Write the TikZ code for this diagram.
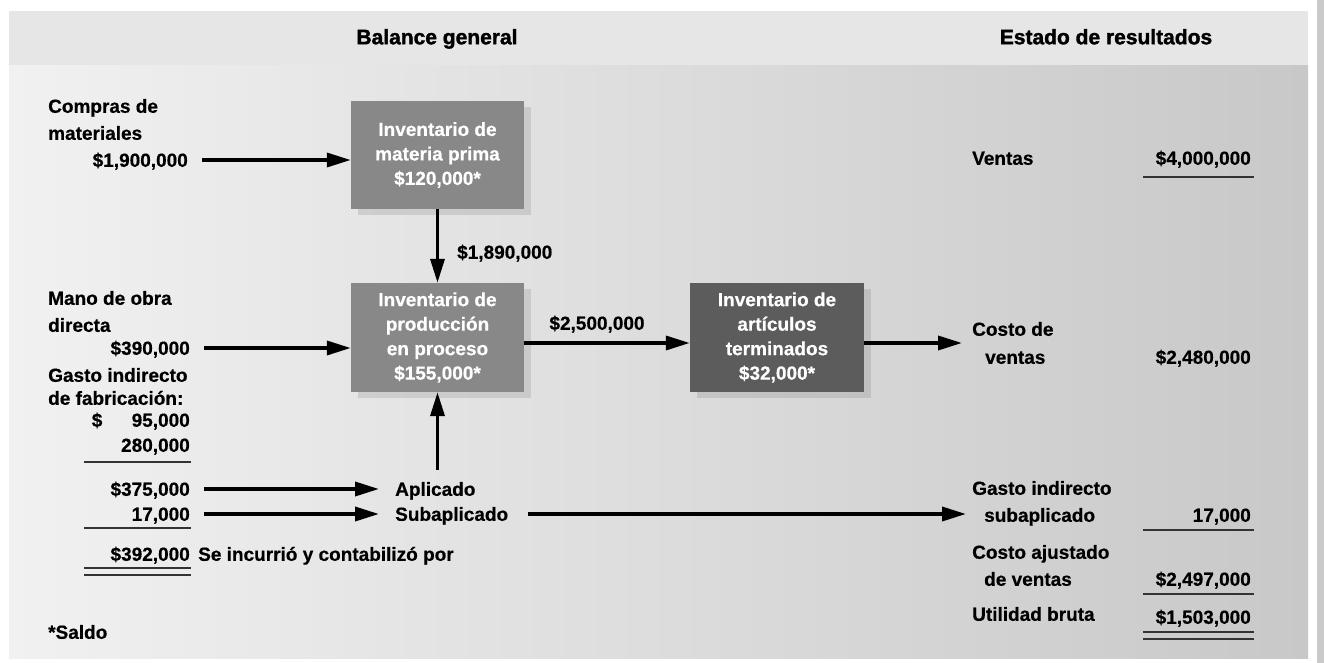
\documentclass[tikz,border=0pt]{standalone}
\usepackage{fontspec}
\setmainfont{Liberation Sans}[BoldFeatures={FakeBold=0.5}]
\newfontfamily\heavyfamily{Liberation Sans}[BoldFeatures={FakeBold=1.6}]
\usetikzlibrary{arrows.meta,shadows,positioning}
\definecolor{panelhead}{HTML}{E6E6E6}
\definecolor{panelleft}{HTML}{F1F1F1}
\definecolor{panelright}{HTML}{C8C8C8}
\definecolor{boxmid}{HTML}{888888}
\definecolor{boxdark}{HTML}{5C5C5C}
\definecolor{rulegray}{HTML}{333333}
\definecolor{edgegray}{HTML}{CACACA}
\newcommand\flowfont{\fontsize{19}{24.5}\selectfont\bfseries}
\newcommand\hdrfont{\heavyfamily\fontsize{21}{25}\selectfont\bfseries}

\begin{document}
\begin{tikzpicture}[x=1pt, y=-1pt,
  txt/.style={font=\flowfont, inner sep=0pt, text height=13.6pt, text depth=0pt},
  lbl/.style={txt, anchor=west},
  amt/.style={txt, anchor=east},
  invbox/.style={fill=boxmid, text=white, font=\flowfont, align=center,
    minimum width=173pt, minimum height=108pt, inner sep=0pt,
    drop shadow={shadow xshift=7pt, shadow yshift=-6pt, fill=black, opacity=0.1}},
  flow/.style={line width=3.5pt, -{Triangle[length=24pt, width=14pt]}},
  sumrule/.style={line width=1.3pt, rulegray}]

  % Panel
  \fill[white] (0,0) rectangle (1324,663);
  \fill[panelhead] (9,11) rectangle (1308,66);
  \shade[left color=panelleft, right color=panelright] (9,66) rectangle (1308,658);
  \fill[edgegray] (1317,0) rectangle (1324,663);
  \useasboundingbox (0,0) rectangle (1324,663);

  \node[font=\hdrfont, inner sep=0pt, text height=14.5pt, text depth=0pt] (balance) at (437,37) {Balance general};
  \node[font=\hdrfont, inner sep=0pt, text height=14.5pt, text depth=0pt] (estado) at (1106,37) {Estado de resultados};

  % Inventories
  \node[invbox] (mp) at (437.5,155) {Inventario de\\materia prima\\\$120,000*};
  \node[invbox, minimum height=109pt] (pp) at (437.5,337.5) {Inventario de\\producción\\en proceso\\\$155,000*};
  \node[invbox, fill=boxdark, minimum width=174pt, minimum height=109pt] (pt) at (777,337.5) {Inventario de\\artículos\\terminados\\\$32,000*};

  % Costs in
  \node[lbl] (compras) at (48,106) {Compras de};
  \node[lbl] (compras2) at (48,133) {materiales};
  \node[amt] (c1900) at (188,160) {\$1,900,000};
  \node[lbl] (mano) at (48,298) {Mano de obra};
  \node[lbl] (mano2) at (48,325) {directa};
  \node[amt] (m390) at (190,348) {\$390,000};
  \node[lbl] (gasto) at (48,375) {Gasto indirecto};
  \node[lbl] (gasto2) at (48,398) {de fabricación:};
  \node[amt] (g95) at (190,420) {\makebox[98pt]{\$\hfill 95,000}};
  \node[amt] (g280) at (190,445) {280,000};
  \node[amt] (g375) at (190,489) {\$375,000};
  \node[amt] (g17) at (190,514) {17,000};
  \node[amt] (g392) at (190,554) {\$392,000};
  \node[lbl] (incurrio) at (198,554) {Se incurrió y contabilizó por};
  \node[lbl] (saldo) at (48,632) {*Saldo};

  \node[lbl] (aplicado) at (395,489) {Aplicado};
  \node[lbl] (subapl) at (395,514) {Subaplicado};
  \node[lbl] (m1890) at (457,252) {\$1,890,000};
  \node[txt] (m2500) at (597,323) {\$2,500,000};

  % Income statement
  \node[lbl] (ventas) at (972,158) {Ventas};
  \node[amt] (r4000) at (1251,158) {\$4,000,000};
  \node[lbl] (costo) at (972,329) {Costo de};
  \node[lbl] (costo2) at (985,357) {ventas};
  \node[amt] (r2480) at (1251,357) {\$2,480,000};
  \node[lbl] (rgasto) at (972,488) {Gasto indirecto};
  \node[lbl] (rgasto2) at (984,515) {subaplicado};
  \node[amt] (r17) at (1251,515) {17,000};
  \node[lbl] (ajust) at (972,552) {Costo ajustado};
  \node[lbl] (ajust2) at (984,579) {de ventas};
  \node[amt] (r2497) at (1251,579) {\$2,497,000};
  \node[lbl] (util) at (972,614) {Utilidad bruta};
  \node[amt] (r1503) at (1251,617) {\$1,503,000};

  % Flows
  \draw[flow, shorten <=14pt] (c1900.east) -- (c1900.east -| mp.west);
  \draw[flow] (mp) -- (pp);
  \draw[flow, shorten <=14pt] (m390.east) -- (m390.east -| pp.west);
  \draw[flow] ([yshift=-5.5pt]pp.east) -- ([yshift=-5.5pt]pt.west);
  \draw[flow, shorten >=10pt] ([yshift=-5.5pt]pt.east) -- ([yshift=-5.5pt]pt.east -| costo.west);
  \draw[flow, shorten <=12pt] (aplicado.north -| pp.south) -- (pp.south);
  \draw[flow, shorten <=14pt, shorten >=16pt] (g375.east) -- (aplicado.west);
  \draw[flow, shorten <=14pt, shorten >=16pt] (g17.east) -- (subapl.west);
  \draw[flow, shorten <=20pt, shorten >=18pt] (subapl.east) -- (subapl.east -| rgasto2.west);

  % Totals
  \foreach \y in {462,528,568,575}
    \draw[sumrule] (84,\y) -- (191,\y);
  \foreach \y in {177,530,594,632,639}
    \draw[sumrule] (1143,\y) -- (1254,\y);
\end{tikzpicture}
\end{document}
